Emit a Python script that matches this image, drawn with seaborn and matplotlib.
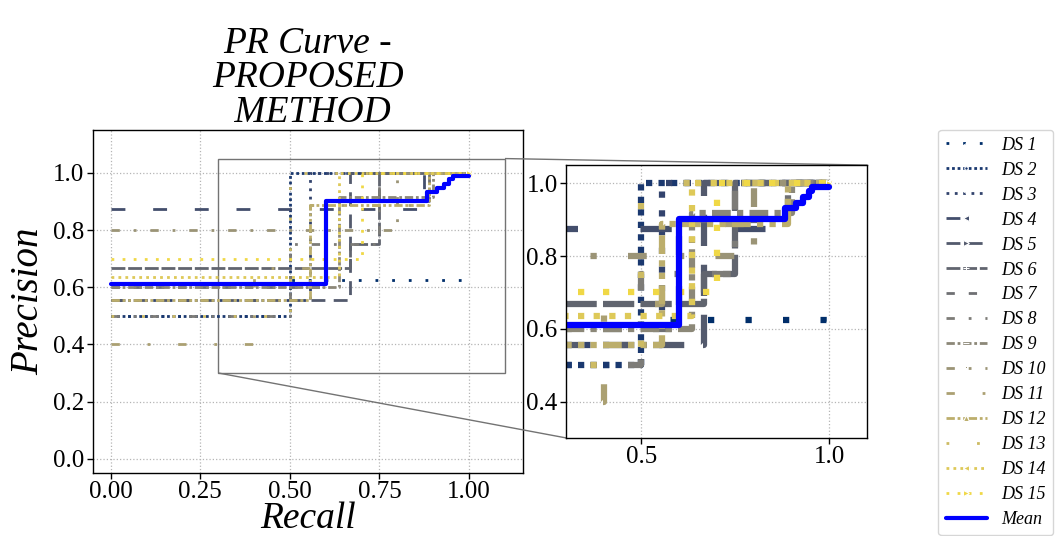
import numpy as np
import pandas as pd
import matplotlib
matplotlib.use("Agg")
import matplotlib.pyplot as plt
import seaborn as sns
from matplotlib.font_manager import FontProperties
from mpl_toolkits.axes_grid1.inset_locator import mark_inset

# ---------------- data ----------------
labels = [f"DS {i}" for i in range(1, 16)]

recall_ds1 = [0.0, 0.5, 1.0];            precision_ds1 = [0.5, 0.625, 0.625]
recall_ds2 = [0.0, 0.5, 1.0];            precision_ds2 = [0.5, 1.0, 1.0]
recall_ds3 = [0.0, 0.556, 1.0];          precision_ds3 = [0.556, 1.0, 1.0]
recall_ds4 = [0.0, 0.875, 1.0];          precision_ds4 = [0.875, 1.0, 1.0]
recall_ds5 = [0.0, 0.667, 1.0];          precision_ds5 = [0.556, 1.0, 1.0]
recall_ds6 = [0.0, 0.667, 0.75, 1.0];    precision_ds6 = [0.667, 0.75, 1.0, 1.0]
recall_ds7 = [0.0, 0.6, 0.889, 1.0];     precision_ds7 = [0.6, 0.9, 1.0, 1.0]
recall_ds8 = [0.0, 0.5, 0.75, 1.0];      precision_ds8 = [0.5, 0.75, 1.0, 1.0]
recall_ds9 = [0.0, 0.636, 0.9, 1.0];     precision_ds9 = [0.6, 0.917, 1.0, 1.0]
recall_ds10 = [0.0, 0.8, 1.0];           precision_ds10 = [0.8, 1.0, 1.0]
recall_ds11 = [0.0, 0.4, 0.556, 0.889, 1.0]; precision_ds11 = [0.4, 0.667, 0.889, 1.0, 1.0]
recall_ds12 = [0.0, 0.556, 0.889, 1.0];  precision_ds12 = [0.556, 0.889, 1.0, 1.0]
recall_ds13 = [0.0, 0.5, 1.0];           precision_ds13 = [0.5, 1.0, 1.0]
recall_ds14 = [0.0, 0.636, 1.0];         precision_ds14 = [0.636, 1.0, 1.0]
recall_ds15 = [0.0, 0.7, 1.0];           precision_ds15 = [0.7, 1.0, 1.0]

recall_mean = [0.0, 0.6, 0.883, 0.91, 0.93, 0.945, 0.955, 1.0]
precision_mean = [0.611, 0.902, 0.932, 0.946, 0.961, 0.978, 0.99, 0.99]

recalls = [recall_ds1, recall_ds2, recall_ds3, recall_ds4, recall_ds5, recall_ds6,
           recall_ds7, recall_ds8, recall_ds9, recall_ds10, recall_ds11, recall_ds12,
           recall_ds13, recall_ds14, recall_ds15]
precisions = [precision_ds1, precision_ds2, precision_ds3, precision_ds4, precision_ds5,
              precision_ds6, precision_ds7, precision_ds8, precision_ds9, precision_ds10,
              precision_ds11, precision_ds12, precision_ds13, precision_ds14, precision_ds15]

main_ticks = [0.0, 0.25, 0.5, 0.75, 1.0]
main_yticks = [0.0, 0.2, 0.4, 0.6, 0.8, 1.0]
inset_xticks = [0.5, 1.0]
inset_yticks = [0.4, 0.6, 0.8, 1.0]

# ---------------- styles ----------------
linestyles = [(0, (1, 5)), (0, (1, 1)), (0, (1, 2)), (0, (5, 10)), (0, (5, 3)),
              (0, (5, 1)), (0, (3, 5)), (0, (3, 5, 1, 5)), (0, (3, 1, 1, 1)),
              (0, (3, 5, 1, 5)), (0, (3, 10, 1, 10)), (0, (3, 1, 1, 1, 1, 1)),
              (0, (1, 10)), (0, (1, 1.5)), (0, (1, 3))]
markers = ['2', '.', '1', '<', '>', '+', 'x', '|', '_', ',', '_', '^', '|', '<', '>']
colors = sns.color_palette("cividis", 15)

sns.set_style("white")
plt.rcParams['font.family'] = ['Liberation Serif', 'DejaVu Serif']
plt.rcParams['text.color'] = 'black'
plt.rcParams['axes.labelcolor'] = 'black'
plt.rcParams['xtick.color'] = 'black'
plt.rcParams['ytick.color'] = 'black'

fig = plt.figure(figsize=(10.57, 5.36), dpi=100)
ax = fig.add_axes([0.0877, 0.1175, 0.407, 0.640])
axins = fig.add_axes([0.5355, 0.183, 0.2848, 0.509])

def draw(a, lw, mlw):
    for i in range(15):
        df = pd.DataFrame({"Recall": recalls[i], "Precision": precisions[i]})
        sns.lineplot(data=df, x="Recall", y="Precision", ax=a, sort=False, estimator=None,
                     color=colors[i], linestyle=linestyles[i], linewidth=lw,
                     drawstyle="steps-post", marker=markers[i], markevery=[len(df) - 1],
                     markersize=5, label=labels[i])
    dfm = pd.DataFrame({"Recall": recall_mean, "Precision": precision_mean})
    sns.lineplot(data=dfm, x="Recall", y="Precision", ax=a, sort=False, estimator=None,
                 color="blue", linewidth=mlw, drawstyle="steps-post", label="Mean")

draw(ax, 2.0, 3.0)
draw(axins, 4.5, 4.5)

for a in (ax, axins):
    leg = a.get_legend()
    if leg is not None:
        leg.remove()
    a.grid(True, linestyle=':', color='#b5b5b5', linewidth=0.9)
    for s in a.spines.values():
        s.set_color('black')
        s.set_linewidth(1.0)
    a.tick_params(axis='both', which='both', direction='out', length=4, width=1,
                  labelsize=18, colors='black', left=True, bottom=True, pad=2)

ax.set_xlim(-0.05, 1.15)
ax.set_ylim(-0.05, 1.15)
ax.set_xticks(main_ticks)
ax.set_xticklabels([f"{t:.2f}" for t in main_ticks])
ax.set_yticks(main_yticks)
ax.set_yticklabels([f"{t:.1f}" for t in main_yticks])
ax.set_xlabel("Recall", fontsize=27, fontstyle='italic', labelpad=-1)
ax.set_ylabel("Precision", fontsize=28, fontstyle='italic', labelpad=4)
ax.set_title("PR Curve -\nPROPOSED\n METHOD", fontsize=27, fontstyle='italic', pad=4,
             linespacing=1.0)

axins.set_xlim(0.3, 1.1)
axins.set_ylim(0.3, 1.05)
axins.set_xticks(inset_xticks)
axins.set_xticklabels([f"{t:.1f}" for t in inset_xticks])
axins.set_yticks(inset_yticks)
axins.set_yticklabels([f"{t:.1f}" for t in inset_yticks])
axins.set_xlabel("")
axins.set_ylabel("")

mark_inset(ax, axins, loc1=1, loc2=3, fc="none", ec="0.45", lw=1.0)

handles, labs = ax.get_legend_handles_labels()
fig.legend(handles, labs, loc='upper right', bbox_to_anchor=(1.0, 0.765),
           prop=FontProperties(family='Liberation Serif', style='italic', size=13),
           labelspacing=0.44, handlelength=2.3, frameon=True, borderpad=0.4,
           borderaxespad=0.2)

fig.savefig("out.png", dpi=100)
